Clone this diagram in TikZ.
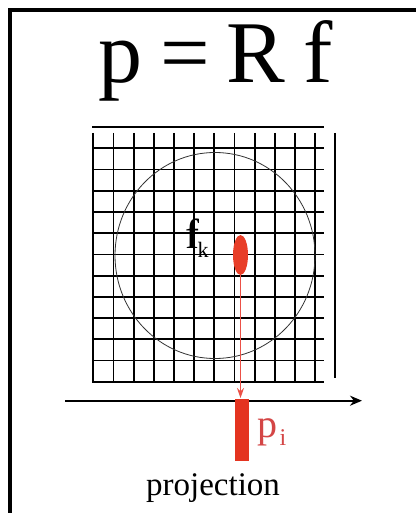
\documentclass[tikz,border=0pt]{standalone}
\usepackage{fontspec}
\setmainfont{Liberation Serif}
\usetikzlibrary{shapes.geometric,arrows.meta}
\definecolor{blobred}{RGB}{232,62,40}
\definecolor{barred}{RGB}{228,52,32}
\definecolor{arrowred}{RGB}{235,80,70}
\definecolor{textred}{RGB}{212,70,70}
\begin{document}
\begin{tikzpicture}[x=1pt,y=-1pt,
  gridline/.style={line width=1.8pt,black},
  bigtext/.style={anchor=base,inner sep=0pt,font=\fontsize{88}{88}\selectfont}]
\useasboundingbox (0,0) rectangle (416,513);
\fill[white] (0,0) rectangle (416,513);
\draw[line width=4pt] (10,513) -- (10,10) -- (416,10);
% title
\node[bigtext] (tp) at (120,83) {p};
\node[bigtext] (teq) at (185,83) {=};
\node[bigtext] (tR) at (255.5,83) {R};
\node[bigtext] (tf) at (318.5,83) {f};
% grid
\foreach \i in {0,...,11} \draw[gridline] ({93.3+20.17*\i},133) -- ({93.3+20.17*\i},381.7);
\foreach \j in {0,...,11} \draw[gridline] (92,{148.3+21.22*\j}) -- (324,{148.3+21.22*\j});
\draw[gridline] (92,126.7) -- (324,126.7);
\draw[gridline] (335,133) -- (335,378);
% circle
\draw[line width=0.8pt,black!80] (215,255.5) ellipse [x radius=100pt, y radius=103pt];
% f_k
\node[anchor=base,inner sep=0pt,font=\fontsize{42}{42}\selectfont] (fk) at (192,248) {f};
\node[anchor=base,inner sep=0pt,font=\fontsize{22}{22}\selectfont] (fksub) at (203,257) {k};
% blob and projection arrow
\node[ellipse, fill=blobred, minimum width=15pt, minimum height=40pt, inner sep=0pt] (blob) at (240.5,255) {};
\coordinate (hit) at (240.5,398);
\draw[arrowred, line width=1pt, -{Stealth[length=10pt,width=7pt]}] (blob.south) -- (hit);
% axis
\coordinate (a0) at (65,400.7);
\coordinate (a1) at (362,400.7);
\draw[line width=1.8pt, -{Stealth[length=12pt,width=10pt]}] (a0) -- (a1);
% bar
\node[fill=barred, minimum width=14pt, minimum height=62pt, inner sep=0pt, anchor=north] (bar) at (242,399) {};
% p_i
\node[anchor=base,inner sep=0pt,text=textred,font=\fontsize{40}{40}\selectfont] (pp) at (267,437) {p};
\node[anchor=base,inner sep=0pt,text=textred,font=\fontsize{24}{24}\selectfont] (psub) at (283,445) {i};
% label
\node[anchor=base,inner sep=0pt,font=\fontsize{33}{33}\selectfont] (proj) at (213,495) {projection};
\end{tikzpicture}
\end{document}
